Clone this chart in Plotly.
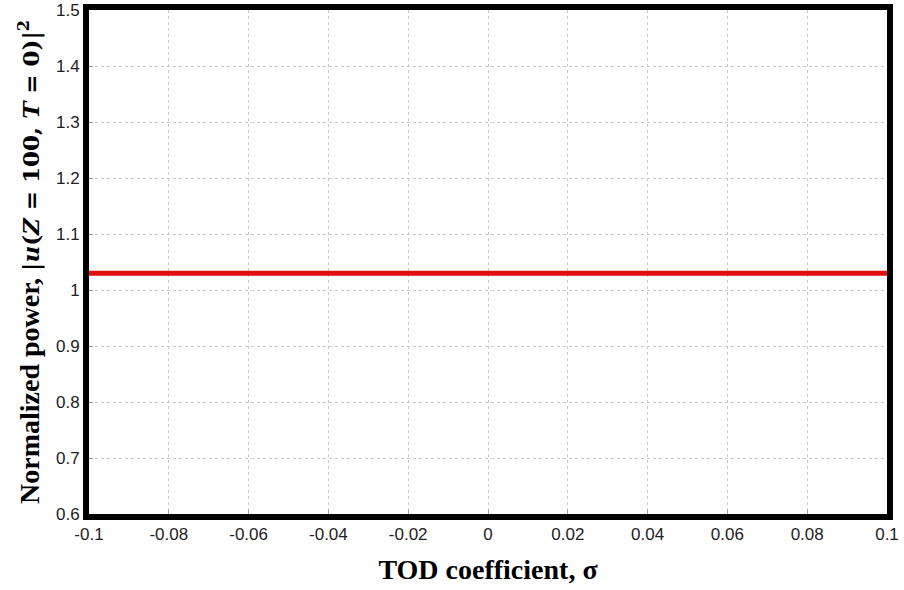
import plotly.graph_objects as go

# TOD coefficient sweep and the resulting normalized peak power
sigma = [-0.1, -0.08, -0.06, -0.04, -0.02, 0.0, 0.02, 0.04, 0.06, 0.08, 0.1]
power = [1.03, 1.03, 1.03, 1.03, 1.03, 1.03, 1.03, 1.03, 1.03, 1.03, 1.03]

x_ticks = [-0.1, -0.08, -0.06, -0.04, -0.02, 0.0, 0.02, 0.04, 0.06, 0.08, 0.1]
x_tick_text = ["-0.1", "-0.08", "-0.06", "-0.04", "-0.02", "0", "0.02", "0.04", "0.06", "0.08", "0.1"]
y_ticks = [0.6, 0.7, 0.8, 0.9, 1.0, 1.1, 1.2, 1.3, 1.4, 1.5]
y_tick_text = ["0.6", "0.7", "0.8", "0.9", "1", "1.1", "1.2", "1.3", "1.4", "1.5"]

fig = go.Figure()
fig.add_trace(go.Scatter(
    x=sigma, y=power, mode="lines",
    line=dict(color="#e01010", width=5),
    showlegend=False,
))

axis_common = dict(
    showgrid=True, gridcolor="#c8c8c8", griddash="dot", gridwidth=1,
    showline=True, linecolor="black", linewidth=6, mirror=True,
    ticks="inside", ticklen=4, tickcolor="#999999",
    tickfont=dict(family="Liberation Sans, Arial", size=17, color="#222222"),
    zeroline=False, automargin=False,
)

serif = "Liberation Serif, Times New Roman"
math = '<span style="font-family:DejaVu Serif;font-size:23px">|<i>u</i>(<i>Z</i> = 100, <i>T</i> = 0)|<sup>2</sup></span>'

fig.update_xaxes(
    range=[-0.1, 0.1], tickvals=x_ticks, ticktext=x_tick_text,
    title=dict(text="<b>TOD coefficient, σ</b>",
               font=dict(family=serif, size=28, color="black"),
               standoff=18),
    **axis_common,
)
fig.update_yaxes(
    range=[0.6, 1.5], tickvals=y_ticks, ticktext=y_tick_text,
    title=dict(text="<b>Normalized power, " + math + "</b>",
               font=dict(family=serif, size=28, color="black"),
               standoff=10),
    **axis_common,
)

fig.update_layout(
    width=904, height=590,
    margin=dict(l=89, r=17, t=10, b=76),
    paper_bgcolor="white", plot_bgcolor="white",
)

fig.write_html("out.html")
